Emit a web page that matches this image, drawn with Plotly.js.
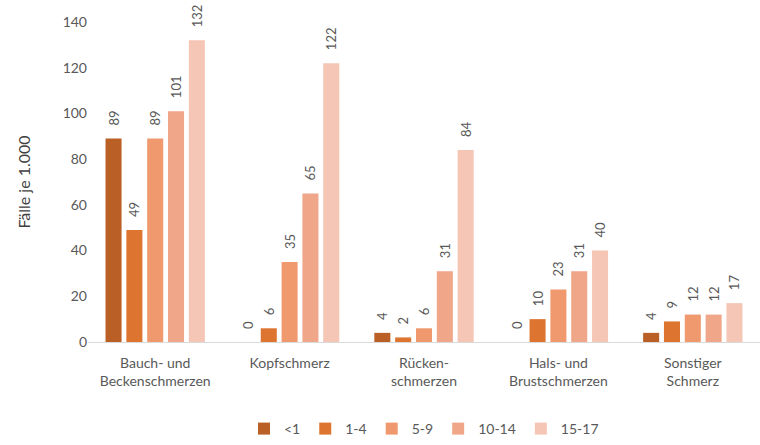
<!DOCTYPE html>
<html><head><meta charset="utf-8">
<script src="https://cdn.plot.ly/plotly-3.0.1.min.js"></script>
<style>html,body{margin:0;padding:0;background:#fff}#chart{width:760px;height:445px}</style>
</head><body><div id="chart"></div>
<script>
var categories = ["Bauch- und<br>Beckenschmerzen", "Kopfschmerz", "Rücken-<br>schmerzen", "Hals- und<br>Brustschmerzen", "Sonstiger<br>Schmerz"];
var seriesNames = ["<1", "1-4", "5-9", "10-14", "15-17"];
var valsU1 = [89, 0, 4, 0, 4];
var vals1to4 = [49, 6, 2, 10, 9];
var vals5to9 = [89, 35, 6, 23, 12];
var vals10to14 = [101, 65, 31, 31, 12];
var vals15to17 = [132, 122, 84, 40, 17];
var colors = ["#BA6026", "#DD7430", "#F0996F", "#F0A688", "#F5C6B5"];
var allVals = [valsU1, vals1to4, vals5to9, vals10to14, vals15to17];

var traces = allVals.map(function(v, i){
  return {
    type: 'bar', name: seriesNames[i], x: categories, y: v,
    marker: {color: colors[i]},
    text: v.map(function(n){ return '\u00A0\u00A0\u00A0' + n; }), textposition: 'outside', textangle: -90,
    textfont: {family: 'Lato, sans-serif', size: 13, color: '#595959'},
    constraintext: 'none', cliponaxis: false, hoverinfo: 'none'
  };
});

var layout = {
  width: 760, height: 445,
  margin: {l: 88, r: 0, t: 22, b: 103, autoexpand: false},
  paper_bgcolor: '#fff', plot_bgcolor: '#fff',
  barmode: 'group', bargap: 0.225, bargroupgap: 0.23,
  font: {family: 'Lato, sans-serif', color: '#595959', size: 14},
  xaxis: {showgrid: false, showline: true, linecolor: '#D9D9D9', linewidth: 1, automargin: false,
          ticks: '', ticklabelstandoff: 8, tickfont: {size: 14, color: '#595959'}, fixedrange: true},
  yaxis: {range: [0, 140], dtick: 20, showgrid: false, zeroline: false, showline: false, automargin: false,
          ticks: '', tickfont: {size: 14, color: '#595959'},
          title: {text: 'Fälle je 1.000', font: {size: 16, color: '#404040'}, standoff: 28}},
  legend: {orientation: 'h', x: 0.5, xanchor: 'center', yref: 'container', y: 0.0, yanchor: 'bottom',
           font: {size: 14, color: '#595959'}, itemwidth: 30, traceorder: 'normal'},
  showlegend: true
};
Plotly.newPlot('chart', traces, layout, {displayModeBar: false, staticPlot: true});
</script></body></html>
